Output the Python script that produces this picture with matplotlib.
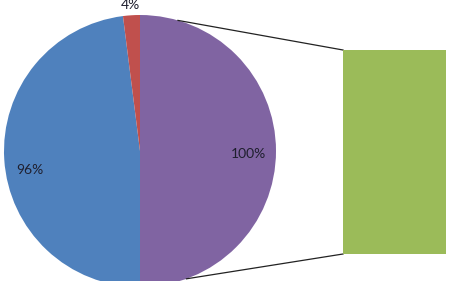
import numpy as np
import matplotlib
matplotlib.use("Agg")
import matplotlib.pyplot as plt

# Data
slice_names = ["Other", "Series A", "Series B"]
slice_shares = [50, 48, 2]
slice_labels = ["100%", "96%", "4%"]
slice_colors = ["#8064A2", "#4F81BD", "#C0504D"]
bar_values = [100]
bar_color = "#9BBB59"

W, H = 451, 281
fig = plt.figure(figsize=(W / 100, H / 100), dpi=100)
ax = fig.add_axes([0, 0, 1, 1])
ax.set_xlim(0, W)
ax.set_ylim(0, H)
ax.set_aspect("equal")
ax.axis("off")

cx, cy, r = 140, 130, 136
ax.pie(slice_shares, colors=slice_colors, startangle=90, counterclock=False,
       center=(cx, cy), radius=r, frame=True,
       wedgeprops=dict(linewidth=0))
ax.set_xlim(0, W)
ax.set_ylim(0, H)
ax.axis("off")

# bar axes
bx0, bx1, by0, by1 = 343, 446, 27, 231
bax = fig.add_axes([bx0 / W, by0 / H, (bx1 - bx0) / W, (by1 - by0) / H])
bax.bar([0], bar_values, width=1.0, color=bar_color)
bax.set_xlim(-0.5, 0.5)
bax.set_ylim(0, bar_values[0])
bax.axis("off")

# connector lines
a1 = np.deg2rad(73.8)
a2 = np.deg2rad(-70)
ax.plot([cx + r * np.cos(a1), bx0], [cy + r * np.sin(a1), by1], color="#222222", lw=0.9)
ax.plot([cx + r * np.cos(a2), bx0], [cy + r * np.sin(a2), by0], color="#222222", lw=0.9)

font = dict(family=["Lato", "DejaVu Sans"], fontsize=10, color="#1f1f2e")
ax.text(248, 127, slice_labels[0], ha="center", va="center", **font)
ax.text(30, 111, slice_labels[1], ha="center", va="center", **font)
ax.text(130, 276, slice_labels[2], ha="center", va="center", **font)

fig.savefig("out.png", dpi=100)
